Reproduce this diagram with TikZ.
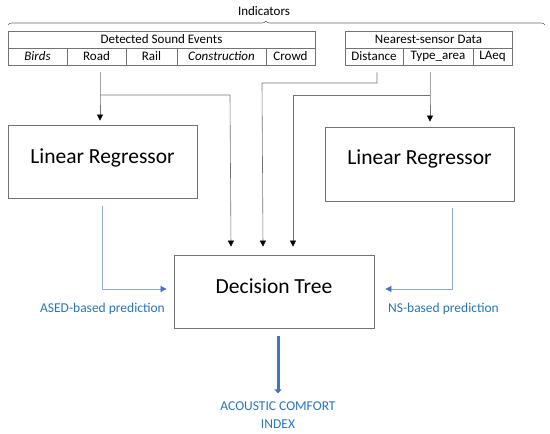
\documentclass[tikz,border=0pt]{standalone}
\usepackage{fontspec}
\setmainfont{Carlito}
\usepackage{xcolor}
\usetikzlibrary{arrows.meta,positioning,calc,decorations.pathreplacing}
\definecolor{txtblue}{RGB}{40,116,190}
\definecolor{lineblue}{RGB}{143,170,220}
\definecolor{outblue}{RGB}{68,114,196}
\tikzset{
  cell/.style={draw=black!55,line width=0.7pt,minimum height=17pt,inner sep=0pt,font=\fontsize{13}{15}\selectfont},
  box/.style={draw=black!55,line width=0.8pt,inner sep=0pt},
  big/.style={font=\fontsize{21.5}{24}\selectfont,inner sep=0pt},
  lbl/.style={font=\fontsize{13.5}{18}\selectfont,text=txtblue,inner sep=0pt,align=center},
  feed/.style={draw=black!55,line width=0.6pt,-{Triangle[length=6pt,width=6pt,black]}},
  pred/.style={draw=lineblue,line width=0.7pt,-{Triangle[length=6pt,width=6pt,outblue]}},
}

\begin{document}
\begin{tikzpicture}[x=1pt,y=-1pt]
  \useasboundingbox (0,0) rectangle (550,434);
  % indicators
  \draw[black!60,line width=0.6pt,decorate,decoration={brace,amplitude=4pt,aspect=0.48}] (8,25) -- (545,25);
  \node[font=\fontsize{13}{15}\selectfont,inner sep=0pt] (ind) at (264,11) {Indicators};
  % sound events table
  \node[cell,minimum width=307pt] (dse) at (161.5,39.5) {Detected Sound Events};
  \node[cell,minimum width=59pt] (birds) at (37.5,56.5) {\itshape Birds};
  \node[cell,minimum width=59pt] (road) at (96.5,56.5) {Road};
  \node[cell,minimum width=51pt] (rail) at (151.5,56.5) {Rail};
  \node[cell,minimum width=89pt] (constr) at (221.5,56.5) {\itshape Construction};
  \node[cell,minimum width=49pt] (crowd) at (290.5,56.5) {Crowd};
  % nearest-sensor table
  \node[cell,minimum width=167pt] (nsd) at (428.5,39.5) {Nearest-sensor Data};
  \node[cell,minimum width=58pt] (dist) at (374,56.5) {Distance};
  \node[cell,minimum width=70pt] (type) at (438,56.5) {Type\_area};
  \node[cell,minimum width=39pt] (laeq) at (492.5,56.5) {LAeq};
  % models
  \node[box,minimum width=189pt,minimum height=73pt] (lrl) at (102.5,161.5) {};
  \node[big] (lrltxt) at ([yshift=4pt]lrl.center) {Linear Regressor};
  \node[box,minimum width=189pt,minimum height=74pt] (lrr) at (419.5,164) {};
  \node[big] (lrrtxt) at ([yshift=5pt]lrr.center) {Linear Regressor};
  \node[box,minimum width=200pt,minimum height=73pt] (dt) at (274,291.5) {};
  \node[big] (dttxt) at ([yshift=5pt]dt.center) {Decision Tree};
  % feeds
  \coordinate (rj) at (100,95);
  \coordinate (tj) at (430,95);
  \draw[feed] ([yshift=-7pt]road.south -| rj) -- (rj) -- ([yshift=4pt]lrl.north -| rj);
  \draw[feed] (rj) -- (230,95) -- ([yshift=8pt]dt.north -| 231,0);
  \draw[feed] ([yshift=-7pt]dist.south -| 377,0) -- (377,83) -- (262,83) -- ([yshift=8pt]dt.north -| 263,0);
  \draw[feed] ([yshift=-7pt]type.south -| tj) -- (tj) -- ([yshift=5pt]lrr.north -| tj);
  \draw[feed] (tj) -- (293,95) -- ([yshift=8pt]dt.north -| 293,0);
  % predictions
  \draw[pred] ([yshift=-8pt]lrl.south -| 102,0) -- (102,289) -- ([xshift=-7pt]dt.west |- 0,289);
  \draw[pred] ([yshift=-7pt]lrr.south -| 452,0) -- (452,289) -- ([xshift=11pt]dt.east |- 0,289);
  \node[lbl] (ased) at (102.5,309) {ASED-based prediction};
  \node[lbl] (ns) at (443.5,309) {NS-based prediction};
  % output
  \node[lbl,font=\fontsize{13.5}{18}\selectfont] (aci) at (278,415) {ACOUSTIC COMFORT\\INDEX};
  \draw[outblue,line width=3pt,-{Triangle[length=4pt,width=7pt]}] ([yshift=-8pt]dt.south -| 278,0) -- ([yshift=8pt]aci.north);
\end{tikzpicture}
\end{document}
